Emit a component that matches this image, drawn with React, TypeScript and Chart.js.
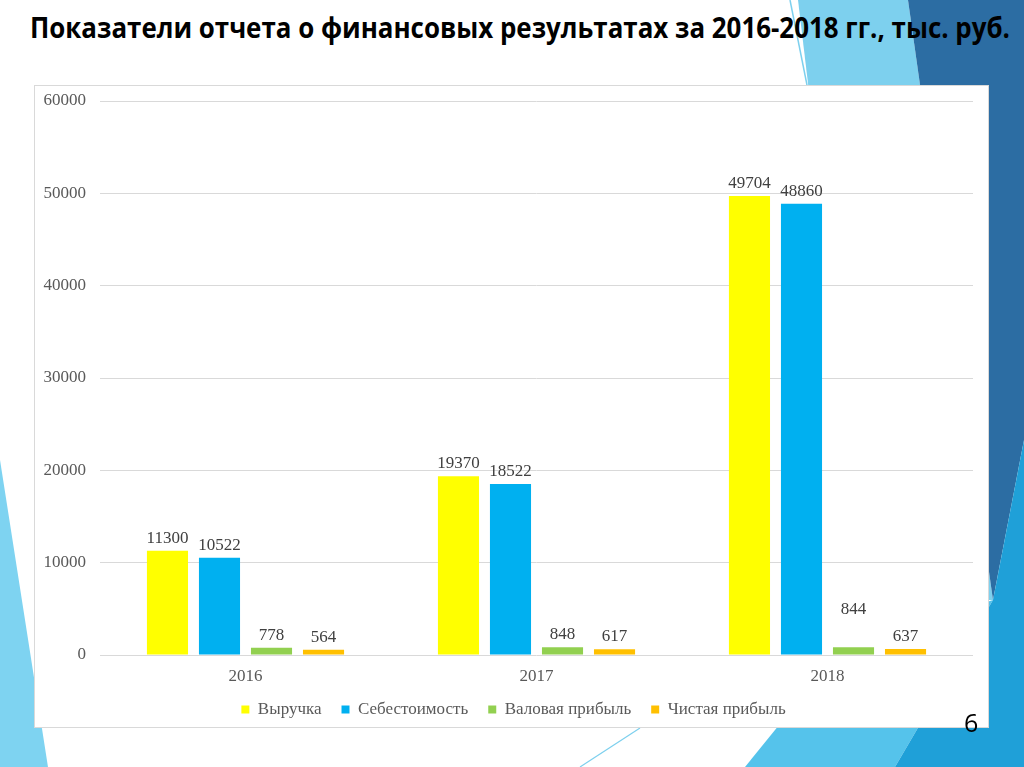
import React, { useEffect, useRef } from "react";
import { Chart, registerables } from "chart.js";

Chart.register(...registerables);

const categories = ["2016", "2017", "2018"];
const seriesNames = ["Выручка", "Себестоимость", "Валовая прибыль", "Чистая прибыль"];
const revenue = [11300, 19370, 49704];
const cost = [10522, 18522, 48860];
const grossProfit = [778, 848, 844];
const netProfit = [564, 617, 637];
const yTicks = [0, 10000, 20000, 30000, 40000, 50000, 60000];
const colors = ["#FFFF00", "#00B0F0", "#92D050", "#FFC000"];

const TITLE = "Показатели отчета о финансовых результатах за 2016-2018 гг., тыс. руб.";
const SERIF = "'Liberation Serif', 'Times New Roman', serif";

const valueLabels = {
  id: "valueLabels",
  afterDatasetsDraw(chart: any) {
    const ctx = chart.ctx;
    ctx.save();
    ctx.font = `17px ${SERIF}`;
    ctx.fillStyle = "#404040";
    ctx.textAlign = "center";
    ctx.textBaseline = "bottom";
    chart.data.datasets.forEach((ds: any, di: number) => {
      const meta = chart.getDatasetMeta(di);
      meta.data.forEach((bar: any, i: number) => {
        const lift = di === 2 && i === 2 ? 25 : 0;
        ctx.fillText(String(ds.data[i]), bar.x, bar.y - 4 - lift);
      });
    });
    ctx.restore();
  },
};

const legendShift = {
  id: "legendShift",
  afterLayout(chart: any) {
    if (chart.legend) {
      chart.legend.left += 10;
      chart.legend.right += 10;
    }
  },
};

export default function App() {
  const ref = useRef<HTMLCanvasElement>(null);
  useEffect(() => {
    if (!ref.current) return;
    const data = [revenue, cost, grossProfit, netProfit];
    const chart = new Chart(ref.current, {
      type: "bar",
      data: {
        labels: categories,
        datasets: seriesNames.map((n, i) => ({
          label: n,
          data: data[i],
          backgroundColor: colors[i],
          borderWidth: 0,
          categoryPercentage: 0.715,
          barPercentage: 0.79,
        })),
      },
      options: {
        animation: false,
        responsive: false,
        maintainAspectRatio: false,
        layout: { padding: { top: 16, right: 16, left: 0, bottom: 0 } },
        plugins: {
          title: { display: false },
          tooltip: { enabled: false },
          legend: {
            position: "bottom",
            labels: {
              boxWidth: 8,
              boxHeight: 8,
              padding: 20,
              color: "#595959",
              font: { family: SERIF, size: 17 },
            },
          },
        },
        scales: {
          x: {
            grid: { display: false, drawTicks: false },
            border: { display: false },
            afterFit: (s: any) => {
              s.height = 26;
            },
            ticks: { color: "#595959", font: { family: SERIF, size: 17 }, padding: 11 },
          },
          y: {
            min: 0,
            max: 60000,
            afterBuildTicks: (s: any) => {
              s.ticks = yTicks.map((v) => ({ value: v }));
            },
            afterFit: (s: any) => {
              s.width = 66;
            },
            grid: { color: "#D9D9D9", drawTicks: true, tickLength: 14, tickColor: "rgba(0,0,0,0)", lineWidth: 1 },
            border: { display: false },
            ticks: {
              color: "#595959",
              font: { family: SERIF, size: 17 },
              padding: 0,
              callback: (v: any) => String(v),
            },
          },
        },
      },
      plugins: [valueLabels, legendShift],
    });
    return () => chart.destroy();
  }, []);

  return (
    <div style={{ position: "absolute", left: 0, top: 0, width: 1024, height: 767, overflow: "hidden", background: "#fff" }}>
      <svg width={1024} height={767} style={{ position: "absolute", left: 0, top: 0 }}>
        <polygon points="798,0 908,0 993,600 870,600" fill="#7DD0EE" />
        <polygon points="745,767 840,650 993,600 895,767" fill="#55C3EB" />
        <polygon points="908,0 1024,0 1024,440 993,600" fill="#2C6DA3" />
        <polygon points="993,600 1024,440 1024,767 895,767" fill="#1FA0D8" />
        <polygon points="0,460 48,767 0,767" fill="#7ED3F1" />
        <line x1={790} y1={0} x2={808} y2={90} stroke="#7DD0EE" strokeWidth={1.5} />
        <line x1={580} y1={767} x2={640} y2={728} stroke="#7DD0EE" strokeWidth={1.2} />
        <text x={30} y={38} textLength={980} lengthAdjust="spacingAndGlyphs"
          style={{ fontFamily: "'Open Sans', sans-serif", fontWeight: 700, fontSize: 28 }} fill="#000">
          {TITLE}
        </text>
      </svg>
      <div style={{ position: "absolute", left: 34, top: 85, width: 955, height: 643, boxSizing: "border-box", border: "1px solid #D9D9D9", background: "#fff" }} />
      <canvas ref={ref} width={955} height={643} style={{ position: "absolute", left: 34, top: 85, width: 955, height: 643 }} />
      <div style={{ position: "absolute", left: 964, top: 707, fontFamily: "'Open Sans', sans-serif", fontSize: 25, color: "#000", lineHeight: "30px" }}>6</div>
    </div>
  );
}
